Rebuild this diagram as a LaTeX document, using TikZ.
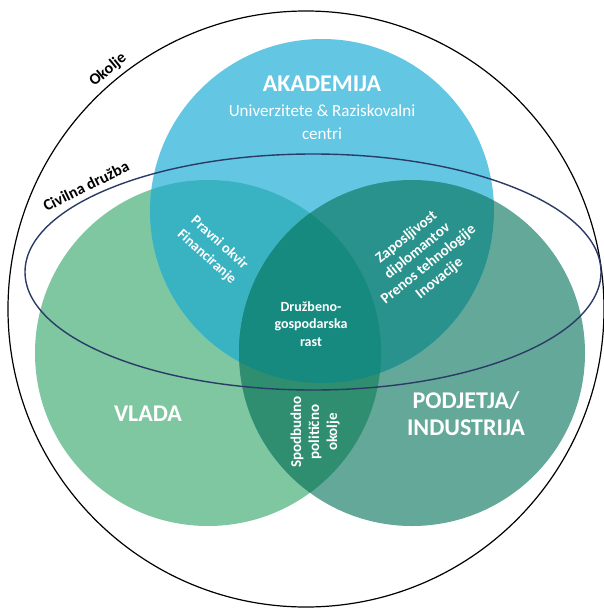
\documentclass[tikz,border=0pt]{standalone}
\usepackage{fontspec}
\setmainfont{Carlito}
\definecolor{cTop}{HTML}{63C7E3}
\definecolor{cLeft}{HTML}{7EC7A0}
\definecolor{cRight}{HTML}{63A898}
\definecolor{cTL}{HTML}{39B3C2}
\definecolor{cTR}{HTML}{2A928C}
\definecolor{cLR}{HTML}{2F8E6F}
\definecolor{cAll}{HTML}{178A80}
\definecolor{cNavy}{HTML}{2B3A67}
\begin{document}
\begin{tikzpicture}[x=1pt,y=-1pt,
  big/.style={text=white, font=\fontsize{24}{27}\selectfont\bfseries, align=center, inner sep=0pt},
  sub/.style={text=white, font=\fontsize{17}{23}\selectfont, align=center, inner sep=0pt},
  small/.style={text=white, font=\fontsize{14}{17.5}\selectfont\bfseries, align=center, inner sep=0pt},
  outer/.style={text=black, font=\fontsize{16}{18}\selectfont\bfseries, inner sep=0pt}]
\useasboundingbox (0,0) rectangle (604,610);
% circles
\fill[cLeft] (208,353) circle (173);
\fill[cRight] (412,353) circle (173);
\fill[cTop] (322,211) circle (172);
% pairwise overlaps
\begin{scope}
  \clip (322,211) circle (172);
  \fill[cTL] (208,353) circle (173);
  \fill[cTR] (412,353) circle (173);
\end{scope}
\begin{scope}
  \clip (208,353) circle (173);
  \fill[cLR] (412,353) circle (173);
  \clip (412,353) circle (173);
  \fill[cAll] (322,211) circle (172);
\end{scope}
% outer circle and ellipse
\draw[black, line width=1.2pt] (306,309) circle (298);
\draw[cNavy, line width=1.4pt] (313,272) ellipse [x radius=288, y radius=118];
% texts
\node[big] (akad) at (322,84) {AKADEMIJA};
\node[sub] (univ) at (322,122) {Univerzitete \& Raziskovalni\\centri};
\node[big] (vlada) at (148,414) {VLADA};
\node[big] (podj) at (466,414) {PODJETJA/\\INDUSTRIJA};
\node[small] (rast) at (311,324) {Družbeno-\\gospodarska\\rast};
\node[small, font=\fontsize{14.5}{19}\selectfont\bfseries, rotate=-42] (pravni) at (213,250) {Pravni okvir\\Financiranje};
\node[small, font=\fontsize{15}{17.5}\selectfont\bfseries, rotate=39] (zap) at (423,258) {Zaposljivost\\diplomantov\\Prenos tehnologije\\Inovacije};
\node[small, font=\fontsize{15}{18}\selectfont\bfseries, rotate=90] (spod) at (315,432) {Spodbudno\\politično\\okolje};
\node[outer, rotate=39.6] (okolje) at (108,70) {Okolje};
\node[outer, rotate=26.5] (civ) at (86,186) {Civilna družba};
\end{tikzpicture}
\end{document}
